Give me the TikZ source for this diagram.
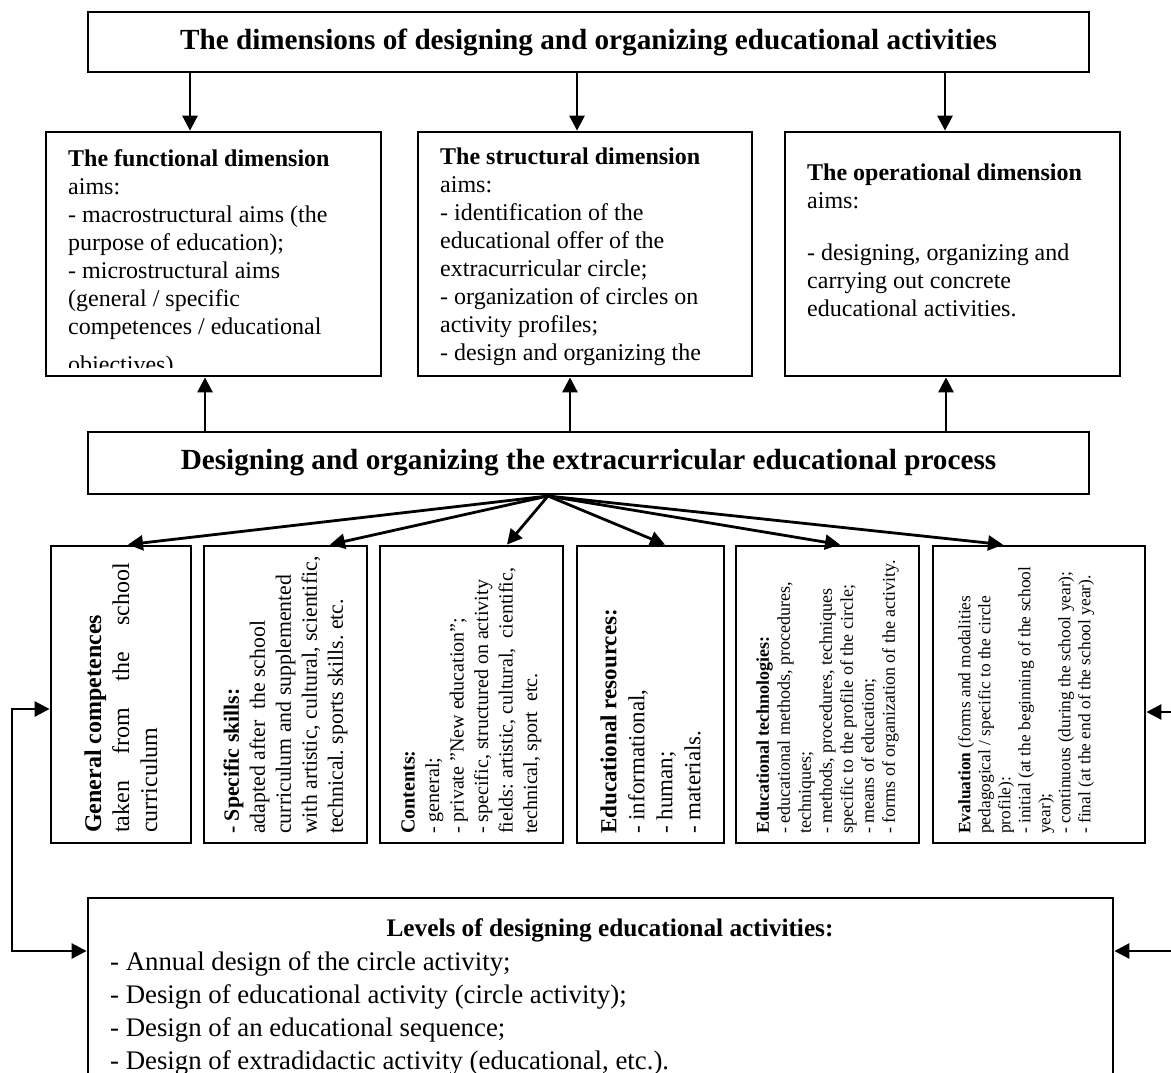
\documentclass[tikz,border=0pt]{standalone}
\usepackage{fontspec}
\setmainfont{Liberation Serif}[Ligatures=ResetAll]
\usetikzlibrary{arrows.meta}
\frenchspacing

\begin{document}
\begin{tikzpicture}[x=1pt, y=-1pt,
    caja/.style = {draw, line width=2.8pt, inner sep=0pt},
    flecha/.style = {line width=2.8pt, -{Triangle[length=15pt,width=15pt]}},
    dflecha/.style = {line width=2.8pt, {Triangle[length=15pt,width=15pt]}-{Triangle[length=15pt,width=15pt]}},
    titulo/.style = {font=\fontsize{29.2}{34}\selectfont\bfseries},
    dim/.style = {anchor=north west, inner sep=0pt, text width=300pt, align=flush left, font=\fontsize{24}{28}\selectfont},
    vert/.style = {rotate=90, anchor=west, inner sep=0pt, text width=300pt, align=flush left}]
            \useasboundingbox (0,0) rectangle (1171,1072);
            \clip (0,0) rectangle (1171,1072);
            % Caja superior
            \node[caja, titulo, minimum width=1001pt, minimum height=60pt] (tit) at (588.5,42)
                {The dimensions of designing and organizing educational activities};
            % Dimensiones
            \node[caja, minimum width=335pt, minimum height=244pt] (fun) at (213.5,254) {};
            \node[caja, minimum width=334pt, minimum height=244pt] (est) at (585,254) {};
            \node[caja, minimum width=335pt, minimum height=244pt] (ope) at (952.5,254) {};
            \begin{scope}
                \clip (46,132) rectangle (381,367);
                \node[dim] (funtxt) at (68,149) {\textbf{The functional dimension}\\ aims:\\
                    - macrostructural aims (the\\ purpose of education);\\ - microstructural aims\\
                    (general / specific\\ competences / educational\\[10pt] objectives).};
            \end{scope}
            \begin{scope}
                \clip (418,132) rectangle (752,370);
                \node[dim] (esttxt) at (440,148) {\textbf{The structural dimension}\\ aims:\\
                    - identification of the\\ educational offer of the\\ extracurricular circle;\\
                    - organization of circles on\\ activity profiles;\\ - design and organizing the};
            \end{scope}
            \node[dim] (opetxt) at (807,164) {\textbf{The operational dimension}\\ aims:\\[24pt]
                - designing, organizing and\\ carrying out concrete\\ educational activities.};
            % Proceso
            \node[caja, titulo, minimum width=1001pt, minimum height=62pt] (proc) at (588.5,463)
                {Designing and organizing the extracurricular educational process};
            \foreach \x/\b in {190/fun, 577/est, 945/ope}
                \draw[flecha] (tit.south -| \x,0) -- (\b.north -| \x,0);
            \foreach \x/\b in {205/fun, 570/est, 946/ope}
                \draw[flecha] (proc.north -| \x,0) -- (\b.south -| \x,0);
            % Componentes
            \node[caja, minimum width=140pt, minimum height=297pt] (gen) at (121,694.5) {};
            \node[caja, minimum width=163pt, minimum height=297pt] (hab) at (285.5,694.5) {};
            \node[caja, minimum width=183pt, minimum height=297pt] (cont) at (471.5,694.5) {};
            \node[caja, minimum width=147pt, minimum height=297pt] (rec) at (650.5,694.5) {};
            \node[caja, minimum width=183pt, minimum height=297pt] (tec) at (827.5,694.5) {};
            \node[caja, minimum width=212pt, minimum height=297pt] (eva) at (1039,694.5) {};
            \node[vert, font=\fontsize{24}{28}\selectfont] (gentxt) at (gen.center |- 0,833)
                {\textbf{General competences}\\ \makebox[270pt][s]{taken from the school}\\ curriculum};
            \node[vert, font=\fontsize{21.8}{26}\selectfont] (habtxt) at (hab.center |- 0,834)
                {\textbf{- Specific skills:}\\ adapted after\ \ the school\\ curriculum and supplemented\\
                with artistic, cultural, scientific,\\ technical. sports skills. etc.};
            \node[vert, font=\fontsize{20}{24.5}\selectfont] (conttxt) at (cont.center |- 0,834)
                {\textbf{Contents:}\\ - general;\\ - private "New education";\\ - specific, structured on activity\\
                fields: artistic, cultural,\ \ cientific,\\ technical, sport\ \ etc.};
            \node[vert, font=\fontsize{23}{28}\selectfont] (rectxt) at (rec.center |- 0,834)
                {\textbf{Educational resources:}\\ - informational,\\ - human;\\ - materials.};
            \node[vert, font=\fontsize{18}{21}\selectfont] (tectxt) at (tec.center |- 0,834)
                {\textbf{Educational technologies:}\\ - educational methods, procedures,\\ techniques;\\
                - methods, procedures, techniques\\ specific to the profile of the circle;\\
                - means of education;\\ - forms of organization of the activity.};
            \node[vert, font=\fontsize{17.4}{20}\selectfont] (evatxt) at (1026,834)
                {\textbf{Evaluation} (forms and modalities\\ pedagogical / specific to the circle\\ profile):\\
                - initial (at the beginning of the school\\ year);\\ - continuous (during the school year);\\
                - final (at the end of the school year).};
            \coordinate (fan) at (548,496);
            \foreach \b/\x in {gen/128, hab/330, cont/507, rec/665, tec/840, eva/1003}
                \draw[flecha] (fan) -- (\b.north -| \x,0);
            % Niveles
            \node[caja, minimum width=1025pt, minimum height=202pt] (niv) at (600.5,999) {};
            \node[anchor=base, font=\fontsize{25.3}{33}\selectfont\bfseries] (nivtit) at (610,936)
                {Levels of designing educational activities:};
            \node[anchor=north west, inner sep=0pt, align=flush left, font=\fontsize{26.8}{33}\selectfont] (nivtxt) at (110,951)
                {- Annual design of the circle activity;\\ - Design of educational activity (circle activity);\\
                - Design of an educational sequence;\\ - Design of extradidactic activity (educational, etc.).};
            \draw[dflecha] (gen.west |- 0,709) -- (12,709) -- (12,951) -- (niv.west |- 0,951);
            \coordinate (der1) at (1180,712);
            \coordinate (der2) at (1180,951);
            \draw[flecha] (der1) -- (eva.east |- der1);
            \draw[flecha] (der2) -- (niv.east |- der2);
\end{tikzpicture}
\end{document}
